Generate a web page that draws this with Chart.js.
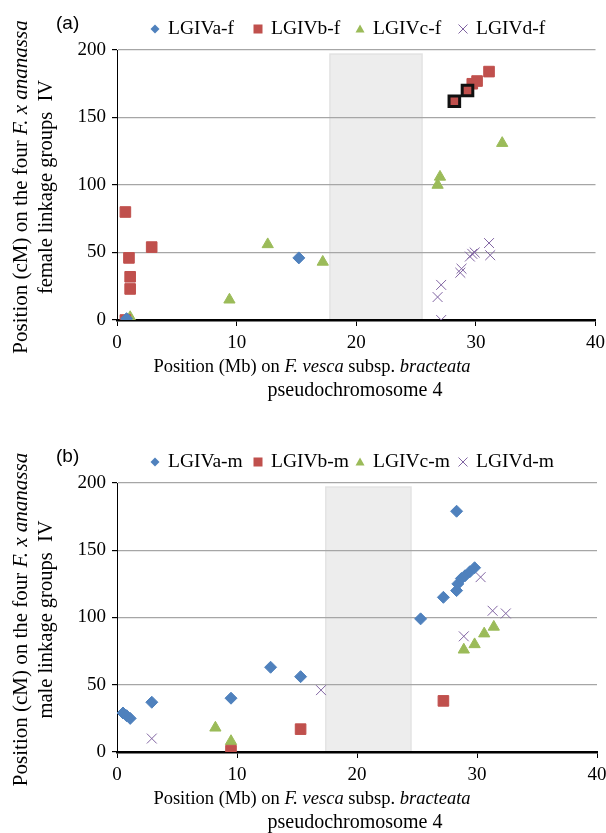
<!DOCTYPE html>
<html>
<head>
<meta charset="utf-8">
<script src="https://cdn.jsdelivr.net/npm/chart.js@4.4.1/dist/chart.umd.min.js"></script>
<style>
  body { margin: 0; background: #fff; width: 606px; height: 833px; overflow: hidden; }
  .panel { position: absolute; left: 0; width: 606px; }
  #panelA { top: 0; height: 433px; }
  #panelB { top: 433px; height: 400px; }
</style>
</head>
<body>
<div class="panel" id="panelA"><canvas id="chartA" width="606" height="433"></canvas></div>
<div class="panel" id="panelB"><canvas id="chartB" width="606" height="400"></canvas></div>
<script>
// ── Axis ticks ─────────────────────────────────────────────────
const X_TICKS = [0, 10, 20, 30, 40];
const Y_TICKS = [0, 50, 100, 150, 200];

// ── Panel (a): female linkage groups (x = Mb, y = cM) ─────────
const LABELS_F = ['LGIVa-f', 'LGIVb-f', 'LGIVc-f', 'LGIVd-f'];
const A_F_X = [0.8, 15.2];
const A_F_Y = [1, 46];
const B_F_X = [0.7, 0.7, 1.0, 1.1, 1.1, 2.9, 29.7, 30.1, 31.1, 28.2, 29.3];
const B_F_Y = [0, 80, 46, 32, 23, 54, 175, 177, 184, 162, 170];
const B_F_OUTLINED = [9, 10];          // markers drawn with a black outline
const C_F_X = [1.1, 9.4, 12.6, 17.2, 26.8, 27.0, 32.2];
const C_F_Y = [2, 15, 56, 43, 100, 106, 131];
const D_F_X = [26.8, 27.1, 27.1, 28.7, 28.8, 29.5, 29.7, 29.9, 31.1, 31.2];
const D_F_Y = [17, 26, 0, 35, 38, 47, 49, 50, 57, 48];
const GAP_F = [17.8, 25.5];            // shaded gap, Mb

// ── Panel (b): male linkage groups ────────────────────────────
const LABELS_M = ['LGIVa-m', 'LGIVb-m', 'LGIVc-m', 'LGIVd-m'];
const A_M_X = [0.5, 0.8, 1.1, 2.9, 9.5, 12.8, 15.3, 25.3, 27.2, 28.3, 28.4, 28.7, 29.0, 29.4, 29.8, 28.3];
const A_M_Y = [29, 27, 25, 37, 40, 63, 56, 99, 115, 120, 125, 129, 131, 134, 137, 179];
const B_M_X = [9.5, 15.3, 27.2];
const B_M_Y = [1, 17, 38];
const C_M_X = [8.2, 9.5, 28.9, 29.8, 30.6, 31.4];
const C_M_Y = [18, 8, 76, 80, 88, 93];
const D_M_X = [2.9, 17.0, 28.9, 30.3, 31.3, 32.4];
const D_M_Y = [10, 46, 86, 130, 105, 103];
const GAP_M = [17.4, 24.5];
const GAP_TOP = 197;

// ── Styling ────────────────────────────────────────────────────
const SERIF = '"Liberation Serif", "Times New Roman", serif';
const SANS = '"Liberation Sans", Arial, sans-serif';
const COLORS = ['#4f81bd', '#c0504d', '#9bbb59', '#8064a2'];
const STYLES = ['rectRot', 'rect', 'triangle', 'crossRot'];
const RADII = [6, 7.5, 6.5, 7];
const LEGEND_X = [155, 258, 360, 463];

const X_TITLE = [[['Position (Mb) on ', false], ['F. vesca', true], [' subsp. ', false], ['bracteata', true]],
                 [['pseudochromosome 4', false]]];
const Y_TITLE_1 = [['Position (cM) on the four ', false], ['F. x ananassa', true]];

const toPoints = (xs, ys) => xs.map((x, i) => ({ x, y: ys[i] }));

function makeSeries(label, xs, ys, k, outlined = []) {
  return {
    label,
    data: toPoints(xs, ys),
    pointStyle: STYLES[k],
    pointRadius: RADII[k],
    pointHoverRadius: RADII[k],
    backgroundColor: COLORS[k],
    pointBackgroundColor: COLORS[k],
    pointBorderColor: c => outlined.includes(c.dataIndex) ? '#111' : COLORS[k],
    pointBorderWidth: c => outlined.includes(c.dataIndex) ? 3 : 1,
    showLine: false,
  };
}

// ── Helpers for drawing text ───────────────────────────────────
function fontOf(italic, size) {
  return `${italic ? 'italic ' : ''}${size}px ${SERIF}`;
}

function drawRich(ctx, parts, cx, cy, size) {
  let w = 0;
  parts.forEach(([t, it]) => { ctx.font = fontOf(it, size); w += ctx.measureText(t).width; });
  let xp = cx - w / 2;
  ctx.textAlign = 'left';
  ctx.textBaseline = 'middle';
  parts.forEach(([t, it]) => {
    ctx.font = fontOf(it, size);
    ctx.fillText(t, xp, cy);
    xp += ctx.measureText(t).width;
  });
}

function drawMarker(ctx, style, x, y, r, color) {
  ctx.save();
  ctx.fillStyle = color;
  ctx.strokeStyle = color;
  ctx.lineWidth = 1;
  ctx.beginPath();
  if (style === 'rectRot') {
    ctx.moveTo(x, y - r); ctx.lineTo(x + r, y); ctx.lineTo(x, y + r); ctx.lineTo(x - r, y);
    ctx.closePath(); ctx.fill();
  } else if (style === 'rect') {
    ctx.fillRect(x - r, y - r, 2 * r, 2 * r);
  } else if (style === 'triangle') {
    ctx.moveTo(x, y - r); ctx.lineTo(x + r, y + r * 0.8); ctx.lineTo(x - r, y + r * 0.8);
    ctx.closePath(); ctx.fill();
  } else {
    ctx.moveTo(x - r, y - r); ctx.lineTo(x + r, y + r);
    ctx.moveTo(x + r, y - r); ctx.lineTo(x - r, y + r);
    ctx.stroke();
  }
  ctx.restore();
}

// ── Plugin: shaded gap, legend, panel tag, axis titles ─────────
const decor = {
  id: 'decor',
  beforeDraw(chart, args, opts) {
    const { ctx, scales: { x, y } } = chart;
    const l = x.getPixelForValue(opts.gap[0]);
    const r = x.getPixelForValue(opts.gap[1]);
    const t = y.getPixelForValue(GAP_TOP);
    const b = y.getPixelForValue(0);
    ctx.save();
    ctx.fillStyle = '#ededed';
    ctx.fillRect(l, t, r - l, b - t);
    ctx.strokeStyle = '#e3e3e3';
    ctx.lineWidth = 1.5;
    ctx.strokeRect(l, t, r - l, b - t);
    ctx.restore();
  },
  afterDraw(chart, args, opts) {
    const { ctx, chartArea } = chart;
    ctx.save();
    ctx.fillStyle = '#000';

    // panel tag
    ctx.font = `19px ${SANS}`;
    ctx.textAlign = 'left';
    ctx.textBaseline = 'middle';
    ctx.fillText(opts.tag, 56, 24);

    // legend
    chart.data.datasets.forEach((ds, i) => {
      const lx = LEGEND_X[i];
      drawMarker(ctx, STYLES[i], lx, 29, 4.5, COLORS[i]);
      ctx.fillStyle = '#000';
      ctx.font = fontOf(false, 19.5);
      ctx.textAlign = 'left';
      ctx.textBaseline = 'middle';
      ctx.fillText(ds.label, lx + 13, 29);
    });

    // x title (two lines)
    drawRich(ctx, X_TITLE[0], 312, chartArea.bottom + 47, 18.5);
    drawRich(ctx, X_TITLE[1], 355, chartArea.bottom + 71, 20);

    // y title (rotated, two lines)
    const cy = (chartArea.top + chartArea.bottom) / 2;
    ctx.translate(21, cy + 2);
    ctx.rotate(-Math.PI / 2);
    drawRich(ctx, Y_TITLE_1, 0, 0, 21);
    drawRich(ctx, [[opts.yLine2, false]], 0, 26, 20.5);
    ctx.restore();
  }
};

function buildChart(canvasId, labels, series, gap, tag, yLine2, plotBottom, plotRight) {
  const canvas = document.getElementById(canvasId);
  return new Chart(canvas.getContext('2d'), {
    type: 'scatter',
    data: {
      datasets: series.map(([xs, ys, outlined], k) => makeSeries(labels[k], xs, ys, k, outlined)),
    },
    options: {
      responsive: false,
      animation: false,
      layout: { padding: { top: 50, right: canvas.width - plotRight, left: 0, bottom: 0 } },
      plugins: {
        legend: { display: false },
        tooltip: { enabled: false },
        decor: { gap, tag, yLine2 },
      },
      scales: {
        x: {
          type: 'linear',
          min: X_TICKS[0],
          max: X_TICKS[X_TICKS.length - 1],
          afterBuildTicks: s => { s.ticks = X_TICKS.map(v => ({ value: v })); },
          afterFit: s => { s.height = canvas.height - plotBottom; s.paddingRight = 0; },
          ticks: { color: '#000', font: { family: SERIF, size: 19 }, padding: 6, maxRotation: 0 },
          grid: { drawOnChartArea: false, drawTicks: true, tickLength: 6, tickColor: '#000' },
          border: { color: '#000', width: 2.5 },
        },
        y: {
          min: Y_TICKS[0],
          max: Y_TICKS[Y_TICKS.length - 1],
          afterBuildTicks: s => { s.ticks = Y_TICKS.map(v => ({ value: v })); },
          afterFit: s => { s.width = 117; },
          ticks: { color: '#000', font: { family: SERIF, size: 19 }, padding: 6 },
          grid: {
            color: c => c.tick && c.tick.value === 0 ? 'rgba(0,0,0,0)' : '#a6a6a6',
            lineWidth: 1.2,
            tickLength: 5,
            tickColor: '#000',
          },
          border: { color: '#000', width: 1 },
        },
      },
    },
    plugins: [decor],
  });
}

// ── Boot ────────────────────────────────────────────────────────
buildChart('chartA', LABELS_F, [
  [A_F_X, A_F_Y],
  [B_F_X, B_F_Y, B_F_OUTLINED],
  [C_F_X, C_F_Y],
  [D_F_X, D_F_Y],
], GAP_F, '(a)', 'female linkage groups  IV', 320, 596);

buildChart('chartB', LABELS_M, [
  [A_M_X, A_M_Y],
  [B_M_X, B_M_Y],
  [C_M_X, C_M_Y],
  [D_M_X, D_M_Y],
], GAP_M, '(b)', 'male linkage groups  IV', 319, 597);
</script>
</body>
</html>
